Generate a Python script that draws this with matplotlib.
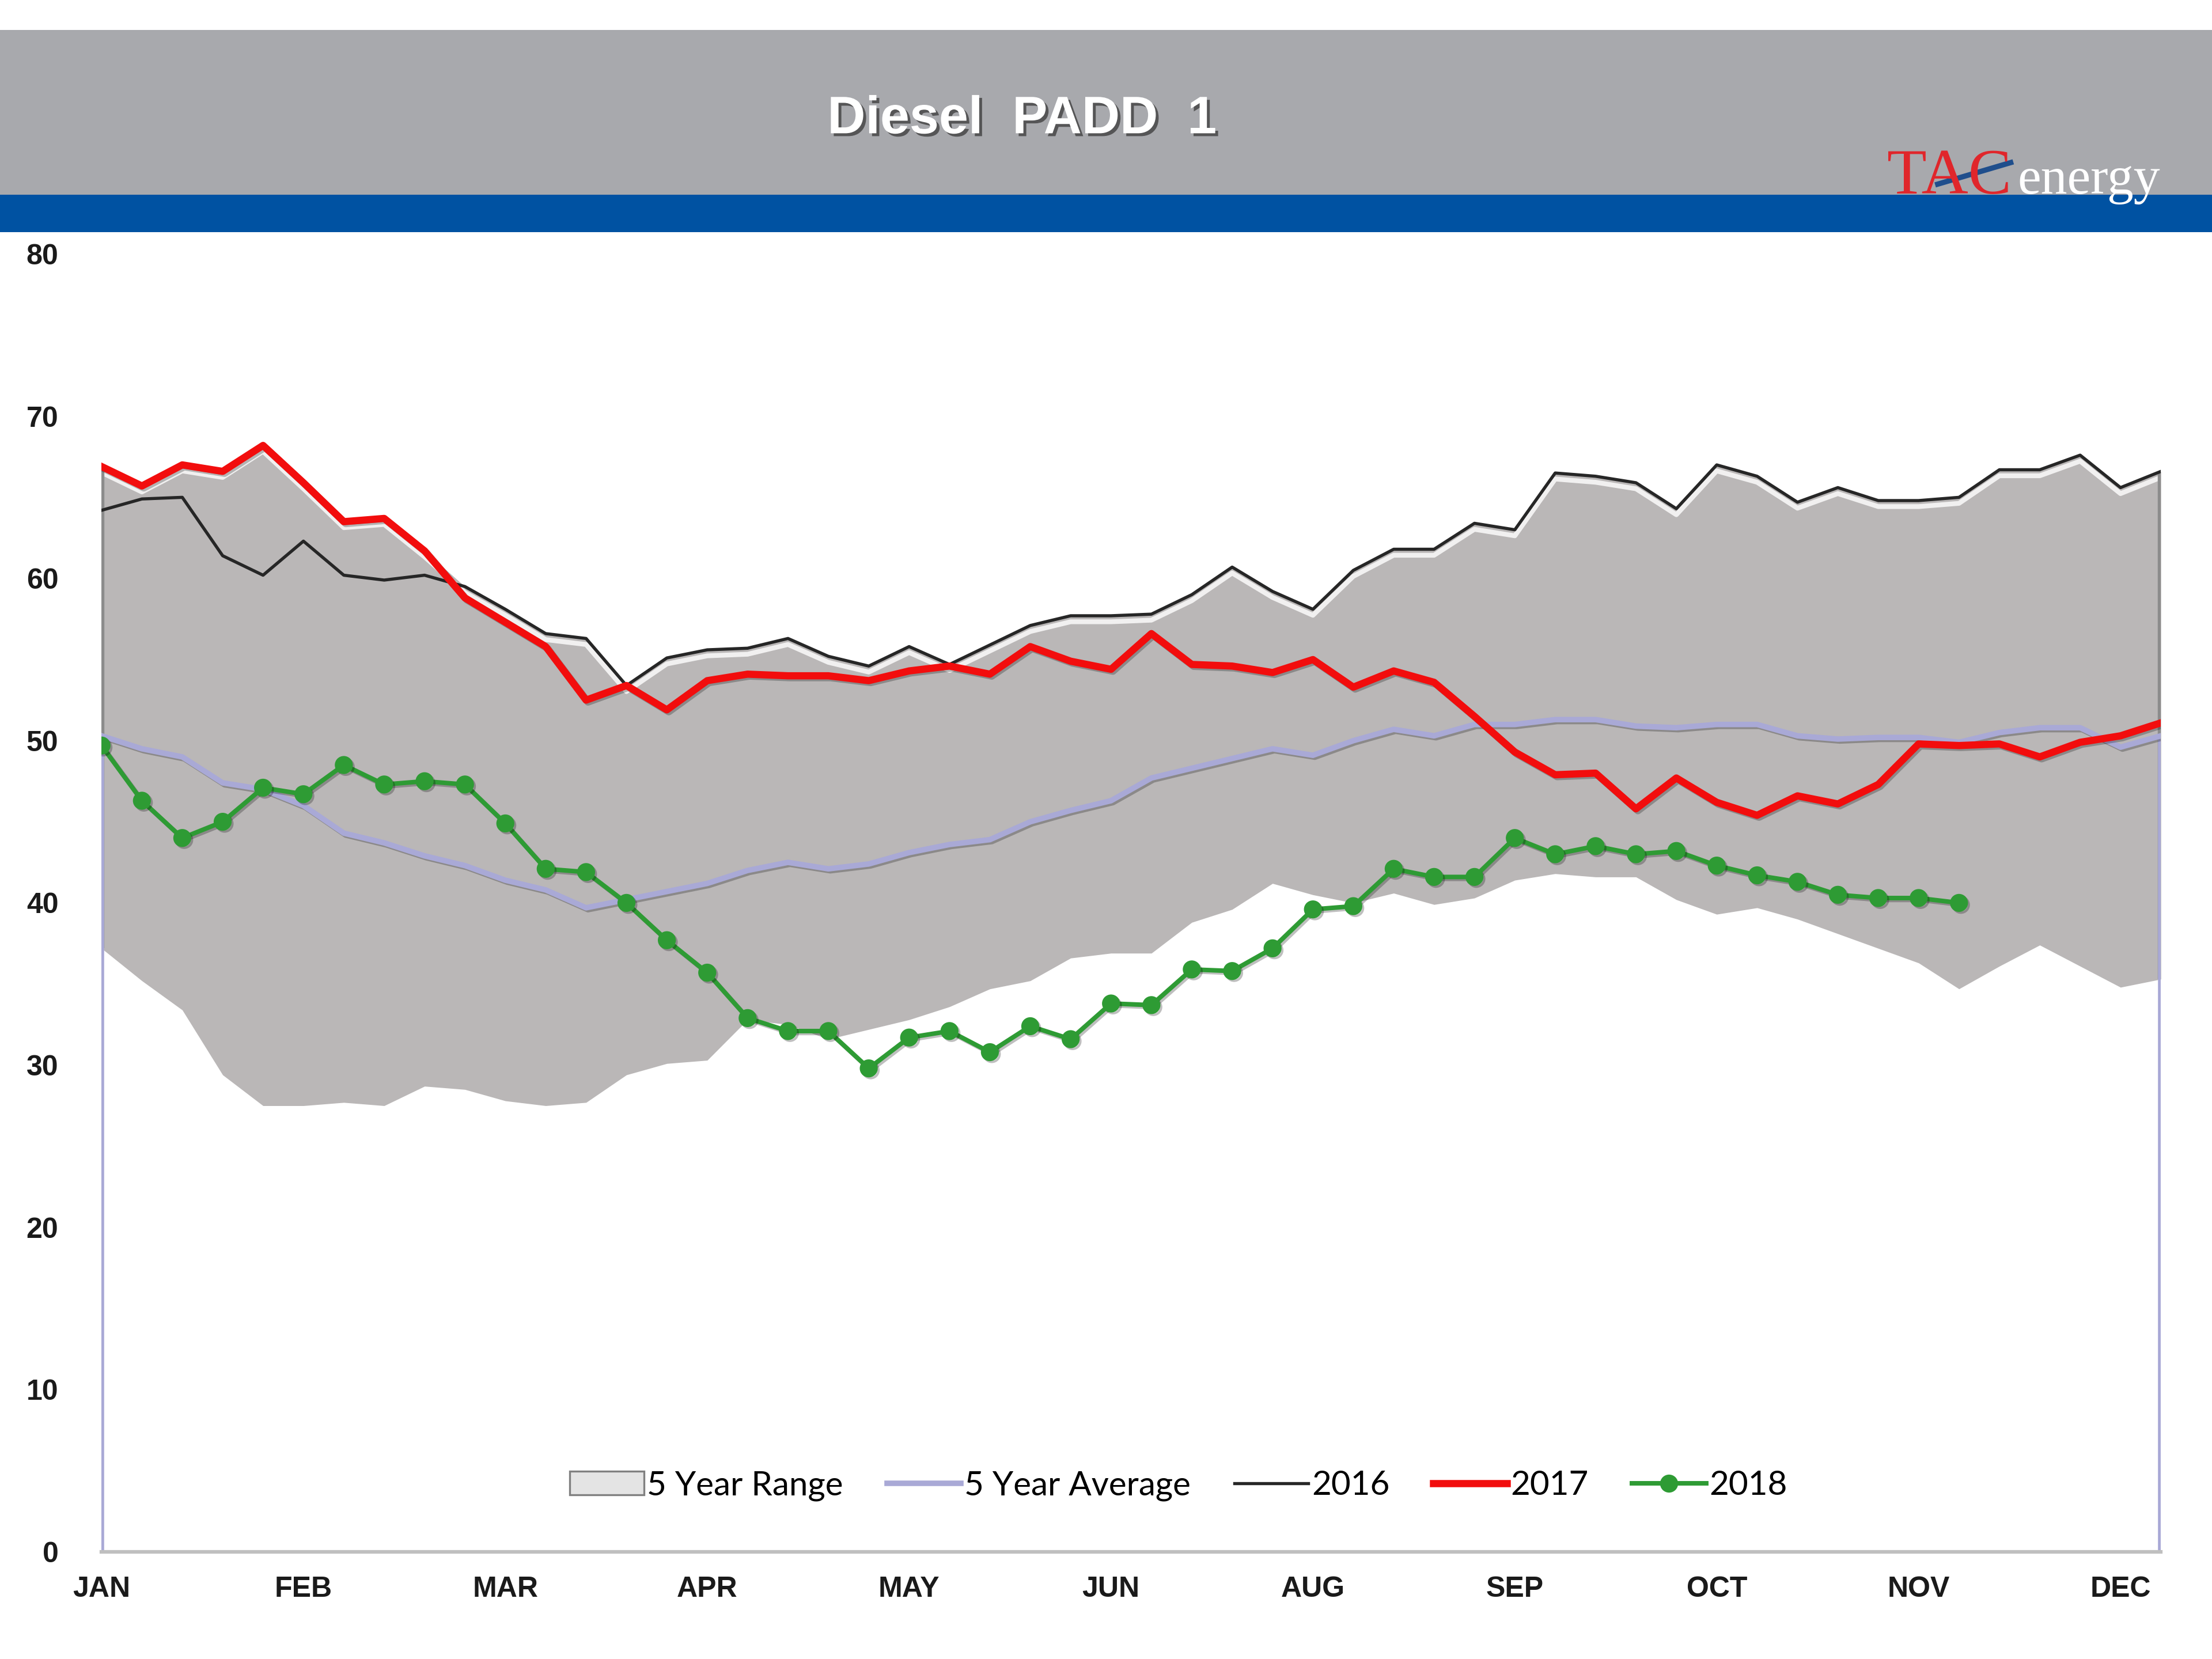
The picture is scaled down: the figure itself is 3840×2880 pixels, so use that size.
import numpy as np
import matplotlib.pyplot as plt
import matplotlib.patheffects as pe
from matplotlib.patches import Rectangle, Patch
from matplotlib.lines import Line2D
from matplotlib.transforms import ScaledTranslation

# weekly values, week 0 = first week of January
weeks = np.arange(52)
month_ticks = [0, 5, 10, 15, 20, 25, 30, 35, 40, 45, 50]
month_labels = ['JAN', 'FEB', 'MAR', 'APR', 'MAY', 'JUN', 'AUG', 'SEP', 'OCT', 'NOV', 'DEC']

range_high = [66.9, 65.7, 67.0, 66.6, 68.2, 65.9, 63.5, 63.7, 61.7, 59.5,
              58.1, 56.6, 56.3, 53.4, 55.1, 55.6, 55.7, 56.3, 55.2, 54.6,
              55.8, 54.7, 55.9, 57.1, 57.7, 57.7, 57.8, 59.0, 60.7, 59.2,
              58.1, 60.5, 61.8, 61.8, 63.4, 63.0, 66.5, 66.3, 65.9, 64.3,
              67.0, 66.3, 64.7, 65.6, 64.8, 64.8, 65.0, 66.7, 66.7, 67.6,
              65.6, 66.6]
range_low = [37.2, 35.2, 33.4, 29.4, 27.5, 27.5, 27.7, 27.5, 28.7, 28.5,
             27.8, 27.5, 27.7, 29.4, 30.1, 30.3, 32.8, 32.5, 31.6, 32.2,
             32.8, 33.6, 34.7, 35.2, 36.6, 36.9, 36.9, 38.8, 39.6, 41.2,
             40.5, 40.0, 40.6, 39.9, 40.3, 41.4, 41.8, 41.6, 41.6, 40.2,
             39.3, 39.7, 39.0, 38.1, 37.2, 36.3, 34.7, 36.1, 37.4, 36.1,
             34.8, 35.3]
avg_5yr = [50.3, 49.5, 49.0, 47.4, 47.0, 46.0, 44.3, 43.7, 42.9, 42.3,
           41.4, 40.8, 39.7, 40.2, 40.7, 41.2, 42.0, 42.5, 42.1, 42.4,
           43.1, 43.6, 43.9, 45.0, 45.7, 46.3, 47.7, 48.3, 48.9, 49.5,
           49.1, 50.0, 50.7, 50.3, 51.0, 51.0, 51.3, 51.3, 50.9, 50.8,
           51.0, 51.0, 50.3, 50.1, 50.2, 50.2, 49.9, 50.5, 50.8, 50.8,
           49.6, 50.3]
y2016 = [64.2, 64.9, 65.0, 61.4, 60.2, 62.3, 60.2, 59.9, 60.2, 59.5,
         58.1, 56.6, 56.3, 53.4, 55.1, 55.6, 55.7, 56.3, 55.2, 54.6,
         55.8, 54.7, 55.9, 57.1, 57.7, 57.7, 57.8, 59.0, 60.7, 59.2,
         58.1, 60.5, 61.8, 61.8, 63.4, 63.0, 66.5, 66.3, 65.9, 64.3,
         67.0, 66.3, 64.7, 65.6, 64.8, 64.8, 65.0, 66.7, 66.7, 67.6,
         65.6, 66.6]
y2017 = [66.9, 65.7, 67.0, 66.6, 68.2, 65.9, 63.5, 63.7, 61.7, 58.8,
         57.3, 55.8, 52.5, 53.4, 51.9, 53.7, 54.1, 54.0, 54.0, 53.7,
         54.3, 54.6, 54.1, 55.8, 54.9, 54.4, 56.6, 54.7, 54.6, 54.2,
         55.0, 53.3, 54.3, 53.6, 51.5, 49.3, 47.9, 48.0, 45.8, 47.7,
         46.2, 45.4, 46.6, 46.1, 47.3, 49.8, 49.7, 49.8, 49.0, 49.9,
         50.3, 51.1]
y2018 = [49.7, 46.3, 44.0, 45.0, 47.1, 46.7, 48.5, 47.3, 47.5, 47.3,
         44.9, 42.1, 41.9, 40.0, 37.7, 35.7, 32.9, 32.1, 32.1, 29.8,
         31.7, 32.1, 30.8, 32.4, 31.6, 33.8, 33.7, 35.9, 35.8, 37.2,
         39.6, 39.8, 42.1, 41.6, 41.6, 44.0, 43.0, 43.5, 43.0, 43.2,
         42.3, 41.7, 41.3, 40.5, 40.3, 40.3, 40.0]

plt.rcParams['font.family'] = ['Liberation Sans', 'DejaVu Sans']

fig = plt.figure(figsize=(12.8, 9.6), dpi=300)

# header bands
fig.patches.append(Rectangle((0, 0.8826), 1, 0.0994, transform=fig.transFigure,
                             facecolor='#a8a9ad', edgecolor='none', zorder=0))
fig.patches.append(Rectangle((0, 0.8601), 1, 0.0225, transform=fig.transFigure,
                             facecolor='#0052a2', edgecolor='none', zorder=0))
fig.text(0.462, 0.928, 'Diesel  PADD  1', ha='center', va='center', fontsize=22,
         fontweight='bold', color='white',
         path_effects=[pe.withSimplePatchShadow(offset=(1.2, -1.2),
                                                shadow_rgbFace='#404040', alpha=0.8)])

# logo
fig.text(0.853, 0.8835, 'TAC', ha='left', va='baseline', fontsize=27,
         family='Liberation Serif', color='#e0262b')
fig.text(0.912, 0.8835, 'energy', ha='left', va='baseline', fontsize=22,
         family='Liberation Serif', color='white')
fig.lines.append(Line2D([0.876, 0.909], [0.889, 0.902], transform=fig.transFigure,
                        color='#1f4e8c', lw=2.2))

ax = fig.add_axes([0.0459, 0.0646, 0.931, 0.7823])

ax.fill_between(weeks, range_low, range_high, color='#bab7b7', lw=0, zorder=1)
hl = ax.transData + ScaledTranslation(0, -2.5 / 72, fig.dpi_scale_trans)
ax.plot(weeks, range_high, color='white', lw=2, alpha=0.8, transform=hl, zorder=1.5)
ax.vlines([0, 51], [range_low[0], range_low[-1]], [range_high[0], range_high[-1]],
          color='#8c8c8c', lw=2.5, zorder=1.6)

shadow = [pe.SimpleLineShadow(offset=(0.8, -0.8), alpha=0.25), pe.Normal()]
ax.vlines([0, 51], 0, [avg_5yr[0], avg_5yr[-1]], color='#a9a9d6', lw=2.3, zorder=2)
ax.plot(weeks, avg_5yr, color='#a9a9d6', lw=2.3, zorder=2, path_effects=shadow)
ax.plot(weeks, y2016, color='#262626', lw=1.3, zorder=3)
ax.plot(weeks, y2017, color='#f20d0d', lw=3.0, zorder=4, path_effects=shadow)
ax.plot(weeks[:len(y2018)], y2018, color='#2e9b34', lw=1.9, marker='o', ms=6.5,
        zorder=5, path_effects=shadow)

ax.set_xlim(0, 51)
ax.set_ylim(0, 80)
ax.set_yticks(range(0, 81, 10))
ax.set_xticks(month_ticks)
ax.set_xticklabels(month_labels)
ax.tick_params(axis='y', length=0, pad=18, labelsize=12)
ax.tick_params(axis='x', length=0, pad=10, labelsize=12)
for lab in ax.get_xticklabels() + ax.get_yticklabels():
    lab.set_fontweight('bold')
    lab.set_color('#1a1a1a')
for s in ['top', 'left', 'right']:
    ax.spines[s].set_visible(False)
ax.spines['bottom'].set_color('#bfbfbf')
ax.spines['bottom'].set_linewidth(1.5)

handles = [Patch(facecolor='#e4e4e4', edgecolor='#808080', lw=0.8),
           Line2D([], [], color='#a9a9d6', lw=2.3),
           Line2D([], [], color='#262626', lw=1.3),
           Line2D([], [], color='#f20d0d', lw=3.0),
           Line2D([], [], color='#2e9b34', lw=1.9, marker='o', ms=6.5)]
labels = ['5 Year Range', '5 Year Average', '2016', '2017', '2018']
ax.legend(handles, labels, loc='center', bbox_to_anchor=(0.523, 0.051), ncol=5,
          frameon=False, handlelength=2.2, handletextpad=0.1, columnspacing=1.3,
          prop={'family': 'Lato', 'size': 14})

fig.savefig('out.png', dpi=300)
